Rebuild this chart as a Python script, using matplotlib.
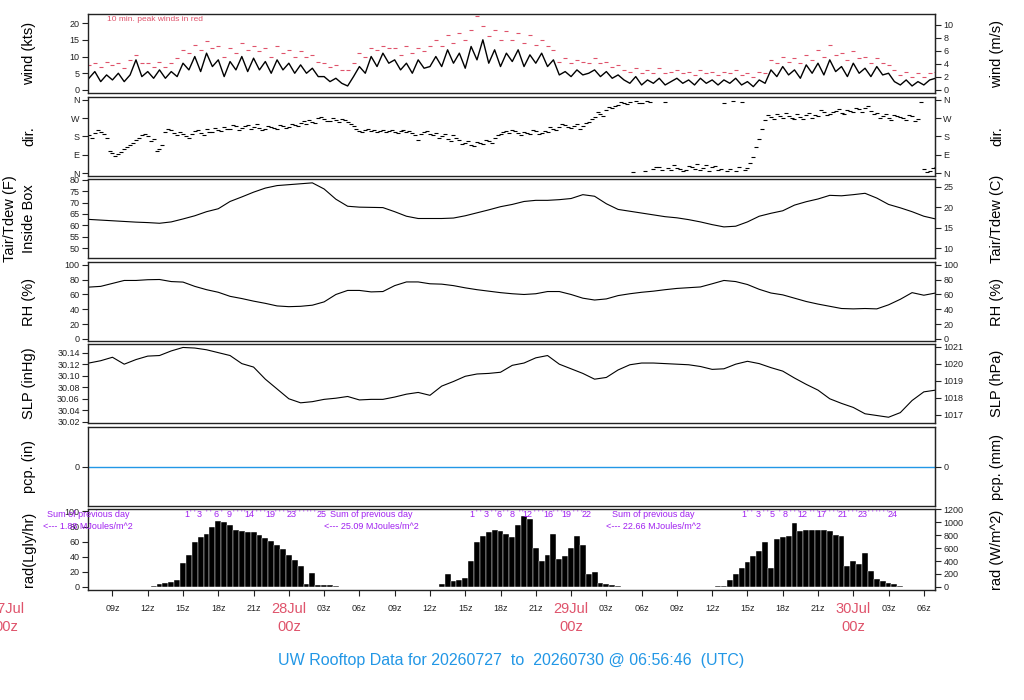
import numpy as np
import matplotlib
matplotlib.use('Agg')
import matplotlib.pyplot as plt
import matplotlib.transforms as mtransforms

plt.rcParams['font.family'] = ['Liberation Sans', 'DejaVu Sans']

# time axis: hours since 2026-07-27 00z
t0_30 = 7.0          # first half-hourly sample
t0_dir_b = 7.25      # second direction sample set
t0_hour = 7.0        # first hourly sample

# wind speed (kts), every 30 min from 07z Jul 27
wind_kts = [
    3.5, 5.5, 2.5, 4.5, 3.0, 5.0, 2.5, 4.5, 9.0, 4.0,
    5.5, 3.5, 6.0, 3.5, 5.5, 4.0, 8.0, 6.0, 10.0, 5.5,
    11.0, 7.0, 9.0, 4.0, 8.5, 6.0, 10.0, 5.5, 9.5, 6.0,
    8.5, 5.0, 9.0, 6.0, 8.0, 5.0, 7.5, 5.0, 6.5, 4.0,
    4.0, 2.5, 3.5, 2.0, 1.2, 4.0, 7.0, 5.0, 10.0, 7.0,
    11.0, 8.0, 9.0, 6.0, 8.0, 5.0, 9.0, 6.5, 7.0, 10.0,
    7.0, 12.0, 8.0, 11.0, 6.5, 13.0, 9.0, 15.0, 8.0, 12.0,
    7.0, 11.0, 8.5, 12.0, 7.0, 10.5, 8.0, 11.0, 7.0, 9.0,
    4.5, 5.5, 4.0, 6.0, 4.5, 5.0, 6.0, 4.0, 5.5, 3.5,
    4.5, 3.0, 2.0, 4.0, 1.5, 3.0, 2.0, 3.5, 1.5, 2.5,
    3.5, 2.0, 3.0, 1.5, 3.5, 2.0, 3.0, 1.5, 3.0, 2.0,
    3.5, 1.5, 2.5, 1.0, 3.0, 2.0, 6.0, 4.0, 7.0, 4.5,
    6.0, 3.5, 7.5, 5.0, 8.0, 4.5, 9.0, 5.5, 7.0, 4.0,
    8.0, 5.0, 6.5, 4.0, 7.0, 4.5, 5.0, 2.5, 1.5, 3.0,
    1.2, 2.5, 1.5, 3.0, 3.5]

# 10 min peak wind (kts)
peak_kts = [
    7.5, 8.0, 7.0, 8.5, 7.5, 8.0, 6.5, 9.0, 10.5, 8.0,
    8.0, 7.0, 8.5, 7.0, 8.0, 9.5, 12.0, 11.0, 13.5, 12.0,
    14.5, 12.5, 13.0, 10.0, 12.5, 11.0, 14.0, 12.0, 13.0, 11.5,
    12.5, 10.0, 13.0, 11.0, 12.0, 10.0, 11.5, 10.0, 10.5, 8.5,
    8.0, 7.0, 7.5, 6.0, 6.0, 8.0, 11.0, 10.0, 12.5, 12.0,
    13.0, 12.5, 12.5, 10.5, 13.0, 11.0, 12.5, 11.5, 13.0, 15.0,
    13.0, 16.5, 14.0, 17.0, 15.0, 18.0, 22.0, 19.0, 16.0, 18.0,
    15.0, 17.5, 15.0, 17.0, 14.0, 16.5, 13.5, 15.0, 13.0, 12.0,
    8.5, 9.5, 8.0, 9.0, 8.5, 8.0, 9.5, 8.0, 8.5, 7.0,
    7.5, 6.0, 5.5, 6.5, 5.0, 6.0, 5.0, 6.5, 5.0, 5.5,
    6.0, 5.0, 5.5, 4.5, 6.0, 5.0, 5.5, 4.5, 5.5, 5.0,
    6.0, 4.5, 5.0, 4.0, 5.5, 5.0, 9.0, 8.0, 10.0, 8.5,
    9.5, 8.0, 10.5, 9.0, 12.0, 10.0, 13.5, 10.5, 11.0, 9.0,
    11.5, 9.5, 10.0, 8.0, 9.5, 8.0, 7.5, 6.0, 4.5, 5.5,
    4.0, 5.0, 4.0, 5.0, 5.5]

# wind direction (deg), every 30 min from 07z, and a second set offset 15 min
dir_a = [
    185, 195, 200, 175, 100, 95, 120, 140, 165, 185,
    180, 170, 120, 200, 210, 185, 190, 175, 205, 195,
    215, 200, 210, 225, 215, 230, 220, 235, 225, 220,
    215, 225, 215, 230, 225, 235, 245, 240, 250, 270,
    265, 255, 260, 265, 250, 230, 205, 210, 205, 200,
    210, 205, 200, 205, 200, 195, 165, 200, 190, 195,
    180, 170, 185, 165, 150, 140, 155, 145, 160, 175,
    190, 205, 210, 195, 200, 190, 205, 195, 200, 215,
    225, 235, 220, 240, 230, 250, 275, 290, 310, 320,
    335, 345, 350, 355, 345, 355, 20, 30, 350, 15,
    25, 10, 35, 20, 15, 40, 30, 15, 345, 20,
    10, 350, 25, 80, 170, 260, 275, 290, 270, 280,
    265, 275, 285, 270, 280, 300, 290, 305, 295, 310,
    300, 315, 320, 305, 295, 280, 270, 285, 275, 260,
    280, 265, 20, 10, 30]
dir_b = [
    175, 210, 190, 110, 85, 105, 130, 150, 175, 190,
    160, 110, 140, 215, 195, 200, 180, 190, 210, 185,
    200, 220, 205, 215, 235, 210, 230, 215, 240, 210,
    230, 220, 235, 220, 240, 230, 255, 260, 245, 275,
    255, 270, 250, 260, 240, 215, 200, 215, 210, 205,
    200, 210, 195, 210, 205, 185, 190, 205, 185, 175,
    190, 160, 175, 145, 160, 135, 150, 165, 150, 185,
    200, 195, 205, 185, 195, 210, 190, 205, 225, 210,
    240, 225, 230, 215, 245, 265, 300, 280, 325, 330,
    350, 340, 5, 345, 10, 350, 30, 15, 25, 40,
    20, 15, 30, 45, 25, 10, 35, 20, 10, 355,
    30, 15, 50, 130, 215, 285, 265, 280, 295, 270,
    290, 265, 295, 285, 310, 285, 300, 315, 290, 305,
    320, 300, 330, 290, 270, 290, 260, 280, 270, 285,
    255, 350, 5, 25]

# hourly values from 07z Jul 27 to 07z Jul 30
temp_f = [
    62.6, 62.3, 62.0, 61.7, 61.4, 61.2, 60.9, 61.5, 62.8, 64.2,
    66.0, 67.3, 70.5, 72.5, 74.6, 76.4, 77.5, 77.9, 78.3, 78.7,
    76.0, 71.5, 68.4, 68.0, 67.9, 67.8, 66.0, 64.0, 63.0, 63.0,
    63.0, 63.2, 64.2, 65.5, 66.8, 68.2, 69.2, 70.5, 71.0, 71.0,
    71.3, 71.8, 73.5, 72.8, 69.5, 67.0, 66.2, 65.4, 64.6, 63.8,
    63.3, 62.5, 61.5, 60.3, 59.3, 59.6, 61.5, 64.0, 65.3, 66.4,
    68.9, 70.4, 71.6, 73.2, 73.0, 73.5, 74.1, 72.0, 69.2, 67.7,
    66.0, 64.0, 62.8]
rh_pct = [
    70, 71, 75, 79, 79, 80, 80.3, 77.5, 76.8, 71,
    66.5, 63, 57.5, 54.5, 51, 48, 44.5, 43.5, 44, 45.5,
    50, 60, 65.5, 65.5, 63.5, 64, 72, 77, 77, 74.5,
    74, 72, 69, 66.5, 64.5, 62.5, 61, 60, 61, 64,
    64, 60, 55, 52.5, 54, 58.5, 61, 63, 64.5, 66.5,
    68.2, 69.2, 70.2, 74.5, 79, 77.5, 73.5, 67, 62, 59.5,
    55, 50.5, 47, 44, 41, 40.5, 41, 40.5, 46, 53.5,
    62.5, 59, 62]
slp_inhg = [
    30.122, 30.126, 30.132, 30.120, 30.128, 30.134, 30.135, 30.143, 30.149, 30.148,
    30.145, 30.140, 30.135, 30.121, 30.115, 30.094, 30.077, 30.060, 30.053, 30.055,
    30.059, 30.061, 30.064, 30.058, 30.059, 30.059, 30.063, 30.068, 30.071, 30.066,
    30.082, 30.090, 30.099, 30.103, 30.104, 30.106, 30.118, 30.122, 30.131, 30.135,
    30.120, 30.112, 30.104, 30.094, 30.097, 30.110, 30.119, 30.122, 30.122, 30.121,
    30.120, 30.119, 30.116, 30.111, 30.112, 30.120, 30.125, 30.121, 30.114, 30.108,
    30.096, 30.085, 30.075, 30.060, 30.052, 30.045, 30.034, 30.031, 30.028, 30.036,
    30.057, 30.072, 30.075]
pcp_in = [0.0] * len(temp_f)

# solar radiation (W/m^2), every 30 min from 07z
rad_wm2 = [
    0, 0, 0, 0, 0, 0, 0, 0, 0, 0,
    0, 10, 45, 60, 70, 115, 370, 490, 700, 770,
    815, 930, 1020, 1000, 950, 880, 860, 850, 840, 800,
    755, 710, 650, 580, 490, 410, 330, 40, 210, 35,
    30, 25, 12, 0, 0, 0, 0, 0, 0, 0,
    0, 0, 0, 0, 0, 0, 0, 0, 0, 6,
    47, 200, 93, 105, 140, 400, 700, 790, 840, 880,
    860, 815, 770, 950, 1100, 1050, 600, 400, 500, 820,
    430, 480, 600, 780, 650, 200, 230, 60, 40, 30,
    15, 0, 0, 0, 0, 0, 0, 0, 0, 0,
    0, 0, 0, 0, 0, 0, 0, 15, 15, 100,
    200, 290, 380, 470, 560, 700, 300, 740, 770, 790,
    990, 870, 880, 880, 880, 875, 870, 800, 780, 320,
    400, 350, 520, 250, 120, 90, 60, 40, 20, 0,
    0, 0, 0, 0, 0]

# running daily radiation sum labels (MJ/m^2) and daily totals
cum_t = [[15.3, 16.4, 17.8, 18.9, 20.6, 22.4, 24.2, 26.8],
         [39.6, 40.8, 41.9, 43.0, 44.3, 46.1, 47.6, 49.3],
         [62.7, 63.9, 65.1, 66.2, 67.7, 69.3, 71.1, 72.8, 75.3]]
cum_lab = [['1', '3', '6', '9', '14', '19', '23', '25'],
           ['1', '3', '6', '8', '12', '16', '19', '22'],
           ['1', '3', '5', '8', '12', '17', '21', '23', '24']]
sum_t = [6.9, 31.0, 55.0]
sum_val = ['1.88', '25.09', '22.66']

date_t = [0, 24, 48, 72]
date_lab = ['27Jul', '28Jul', '29Jul', '30Jul']

t30 = t0_30 + 0.5 * np.arange(len(wind_kts))
tdb = t0_dir_b + 0.5 * np.arange(len(dir_b))
th = t0_hour + np.arange(len(temp_f))

RED = '#DF536B'
BLUE = '#2297E6'
PURPLE = '#A020F0'
W, H = 1024, 700
left_px, right_px = 88, 935
panels_px = [(14, 93), (97, 176), (179, 258), (262, 341),
             (344, 423), (427, 506), (509, 590)]
xlim = (6.92, 78.95)

fig = plt.figure(figsize=(W / 100, H / 100), dpi=100)


def style(ax):
    ax.set_xlim(*xlim)
    for s in ax.spines.values():
        s.set_color('#222222')
        s.set_linewidth(1.0)
    ax.tick_params(axis='y', direction='out', length=4, width=0.8,
                   labelsize=6.5, pad=2, colors='#222222')
    ax.tick_params(axis='x', bottom=False, labelbottom=False)


def right_axis(ax, f, finv, ticks, labels=None):
    sec = ax.secondary_yaxis('right', functions=(f, finv))
    sec.set_yticks(ticks)
    if labels is not None:
        sec.set_yticklabels(labels)
    sec.tick_params(direction='out', length=4, width=0.8, labelsize=6.5,
                    pad=2, colors='#222222')
    sec.spines['right'].set_color('#222222')
    return sec


axes = []
for top, bot in panels_px:
    ax = fig.add_axes([left_px / W, 1 - bot / H,
                       (right_px - left_px) / W, (bot - top) / H])
    style(ax)
    axes.append(ax)
ax1, ax2, ax3, ax4, ax5, ax6, ax7 = axes

# wind speed and peaks
ax1.plot(t30, wind_kts, color='black', lw=1.0)
ax1.plot(t30, peak_kts, ls='none', marker='_', ms=3, mew=0.8, color=RED)
ax1.set_ylim(-0.9, 22.7)
ax1.set_yticks([0, 5, 10, 15, 20])
right_axis(ax1, lambda k: k * 0.514444, lambda m: m / 0.514444, [0, 2, 4, 6, 8, 10])
ax1.text(0.022, 0.93, '10 min. peak winds in red', transform=ax1.transAxes,
         color=RED, fontsize=6, ha='left', va='center')

# direction
ax2.plot(t30, dir_a, ls='none', marker='_', ms=3, mew=0.8, color='black')
ax2.plot(tdb, dir_b, ls='none', marker='_', ms=3, mew=0.8, color='black')
ax2.set_ylim(-14.4, 374.4)
ax2.set_yticks([0, 90, 180, 270, 360])
ax2.set_yticklabels(['N', 'E', 'S', 'W', 'N'])
right_axis(ax2, lambda d: d, lambda d: d, [0, 90, 180, 270, 360],
           ['N', 'E', 'S', 'W', 'N'])

# temperature
ax3.plot(th, temp_f, color='black', lw=0.8)
ax3.set_ylim(45.6, 80.4)
ax3.set_yticks([50, 55, 60, 65, 70, 75, 80])
right_axis(ax3, lambda f: (f - 32) * 5 / 9, lambda c: c * 9 / 5 + 32, [10, 15, 20, 25])

# relative humidity
ax4.plot(th, rh_pct, color='black', lw=0.8)
ax4.set_ylim(-3, 104)
ax4.set_yticks([0, 20, 40, 60, 80, 100])
right_axis(ax4, lambda r: r, lambda r: r, [0, 20, 40, 60, 80, 100])

# sea level pressure
ax5.plot(th, slp_inhg, color='black', lw=0.8)
ax5.set_ylim(30.018, 30.155)
ax5.set_yticks([30.02, 30.04, 30.06, 30.08, 30.10, 30.12, 30.14])
ax5.set_yticklabels(['%.2f' % v for v in ax5.get_yticks()])
right_axis(ax5, lambda p: p * 33.8639, lambda h: h / 33.8639,
           [1017, 1018, 1019, 1020, 1021])

# precipitation
ax6.plot([xlim[0]] + list(th) + [xlim[1]],
         [pcp_in[0]] + pcp_in + [pcp_in[-1]], color=BLUE, lw=1.0)
ax6.set_ylim(-1, 1)
ax6.set_yticks([0])
right_axis(ax6, lambda p: p * 25.4, lambda m: m / 25.4, [0])

# radiation (plotted in Langley/hr, right axis in W/m^2)
rad_ly = np.array(rad_wm2) / 11.63
ax7.bar(t30, rad_ly, width=0.5, color='black', edgecolor='white', linewidth=0.3)
ax7.set_ylim(-4, 103.3)
ax7.set_yticks([0, 20, 40, 60, 80, 100])
right_axis(ax7, lambda l: l * 11.63, lambda w: w / 11.63,
           [0, 200, 400, 600, 800, 1000, 1200])

xt = np.arange(9, 79, 3)
ax7.set_xticks(xt)
ax7.set_xticklabels(['' if v % 24 == 0 else '%02dz' % (v % 24) for v in xt])
ax7.tick_params(axis='x', bottom=True, labelbottom=True, direction='out',
                length=4, width=0.8, labelsize=6.5, pad=6, colors='#222222')

trans7 = mtransforms.blended_transform_factory(ax7.transData, ax7.transAxes)
for t, lab in zip(date_t, date_lab):
    ax7.text(t, -0.235, lab, transform=trans7, ha='center', va='center',
             color=RED, fontsize=10.5, clip_on=False)
    ax7.text(t, -0.455, '00z', transform=trans7, ha='center', va='center',
             color=RED, fontsize=10.5, clip_on=False)

# running sums along the top of the radiation panel
for ts, labs in zip(cum_t, cum_lab):
    for t, lab in zip(ts, labs):
        ax7.text(t, 0.93, lab, transform=trans7, ha='center', va='center',
                 color=PURPLE, fontsize=6.5, clip_on=False)
    for t in np.arange(ts[0], ts[-1], 0.33):
        if min(abs(t - v) for v in ts) > 0.3:
            ax7.text(t, 0.95, "'", transform=trans7, ha='center', va='center',
                     color=PURPLE, fontsize=6, clip_on=False)
for t, v in zip(sum_t, sum_val):
    ax7.text(t, 0.93, 'Sum of previous day', transform=trans7, ha='center',
             va='center', color=PURPLE, fontsize=6.5, clip_on=False)
    ax7.text(t, 0.79, '<--- %s MJoules/m^2' % v, transform=trans7, ha='center',
             va='center', color=PURPLE, fontsize=6.5, clip_on=False)

# axis titles
left_labels = ['wind (kts)', 'dir.', None, 'RH (%)', 'SLP (inHg)', 'pcp. (in)', 'rad(Lgly/hr)']
right_labels = ['wind (m/s)', 'dir.', 'Tair/Tdew (C)', 'RH (%)', 'SLP (hPa)',
                'pcp. (mm)', 'rad (W/m^2)']
for (top, bot), ll, rl in zip(panels_px, left_labels, right_labels):
    yc = 1 - (top + bot) / 2 / H
    if ll is not None:
        fig.text(29 / W, yc, ll, rotation=90, ha='center', va='center', fontsize=10.5)
    fig.text(997 / W, yc, rl, rotation=90, ha='center', va='center', fontsize=10.5)
yc3 = 1 - (panels_px[2][0] + panels_px[2][1]) / 2 / H
fig.text(10 / W, yc3, 'Tair/Tdew (F)', rotation=90, ha='center', va='center', fontsize=10.5)
fig.text(29 / W, yc3, 'Inside Box', rotation=90, ha='center', va='center', fontsize=10.5)

fig.text(511 / W, 1 - 660 / H,
         'UW Rooftop Data for 20260727  to  20260730 @ 06:56:46  (UTC)',
         ha='center', va='center', color=BLUE, fontsize=11.5)

fig.savefig('out.png', dpi=100)
